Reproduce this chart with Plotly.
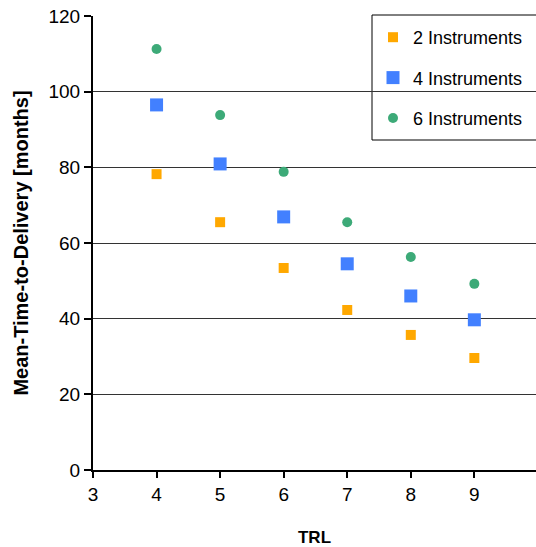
import plotly.graph_objects as go

trl = [4, 5, 6, 7, 8, 9]
inst2 = [78.2, 65.5, 53.4, 42.3, 35.7, 29.6]
inst4 = [96.5, 80.9, 66.9, 54.5, 46.0, 39.7]
inst6 = [111.3, 93.8, 78.8, 65.5, 56.3, 49.2]
names = ["2 Instruments", "4 Instruments", "6 Instruments"]
x_ticks = [3, 4, 5, 6, 7, 8, 9]
y_ticks = [0, 20, 40, 60, 80, 100, 120]

fig = go.Figure()
fig.add_trace(go.Scatter(x=trl, y=inst2, mode="markers", name=names[0], legendgroup="a",
                         marker=dict(symbol="square", size=10, color="#FFA800")))
fig.add_trace(go.Scatter(x=trl, y=inst4, mode="markers", name=names[1], legendgroup="b",
                         marker=dict(symbol="square", size=13, color="#4280FF")))
fig.add_trace(go.Scatter(x=trl, y=inst6, mode="markers", name=names[2], legendgroup="c",
                         marker=dict(symbol="circle", size=10, color="#3DAA78")))

L, T, W, H = 93, 16, 443, 454
lx = (373 - L) / W

fig.update_layout(
    width=536, height=547,
    margin=dict(l=L, r=0, t=T, b=547 - T - H, pad=0),
    plot_bgcolor="white", paper_bgcolor="white",
    font=dict(family="Liberation Sans, Arial, sans-serif", color="black", size=18),
    showlegend=True,
    legend=dict(x=lx, y=1 - 3 / H, xanchor="left", yanchor="top", bgcolor="rgba(0,0,0,0)",
                borderwidth=0, font=dict(size=18),
                tracegroupgap=14, itemsizing="trace"),
    shapes=[dict(type="rect", xref="paper", yref="paper", x0=(372 - L) / W, x1=1.05,
                 y0=1 - (140 - T) / H, y1=1 + 1 / H, line=dict(color="black", width=1),
                 fillcolor="white", layer="below")],
    xaxis=dict(range=[3, 9.97], tickvals=x_ticks, showgrid=False, automargin=False,
               showline=True, linecolor="black", linewidth=2, ticks="outside",
               ticklen=6, tickcolor="black", tickwidth=2, zeroline=False,
               tickfont=dict(size=19),
               title=dict(text="<b>TRL</b>", font=dict(size=17), standoff=28)),
    yaxis=dict(range=[0, 120], tickvals=y_ticks, showgrid=True, automargin=False,
               gridcolor="#333333", gridwidth=1, showline=True, linecolor="black",
               linewidth=2, ticks="outside", ticklen=7, tickcolor="black", tickwidth=2,
               zeroline=False, tickfont=dict(size=19),
               title=dict(text="<b>Mean-Time-to-Delivery [months]</b>", font=dict(size=20), standoff=14)),
)
fig.write_html("out.html", config={"displayModeBar": False},
               post_script="document.body.style.margin='0';document.body.style.overflow='hidden';")
